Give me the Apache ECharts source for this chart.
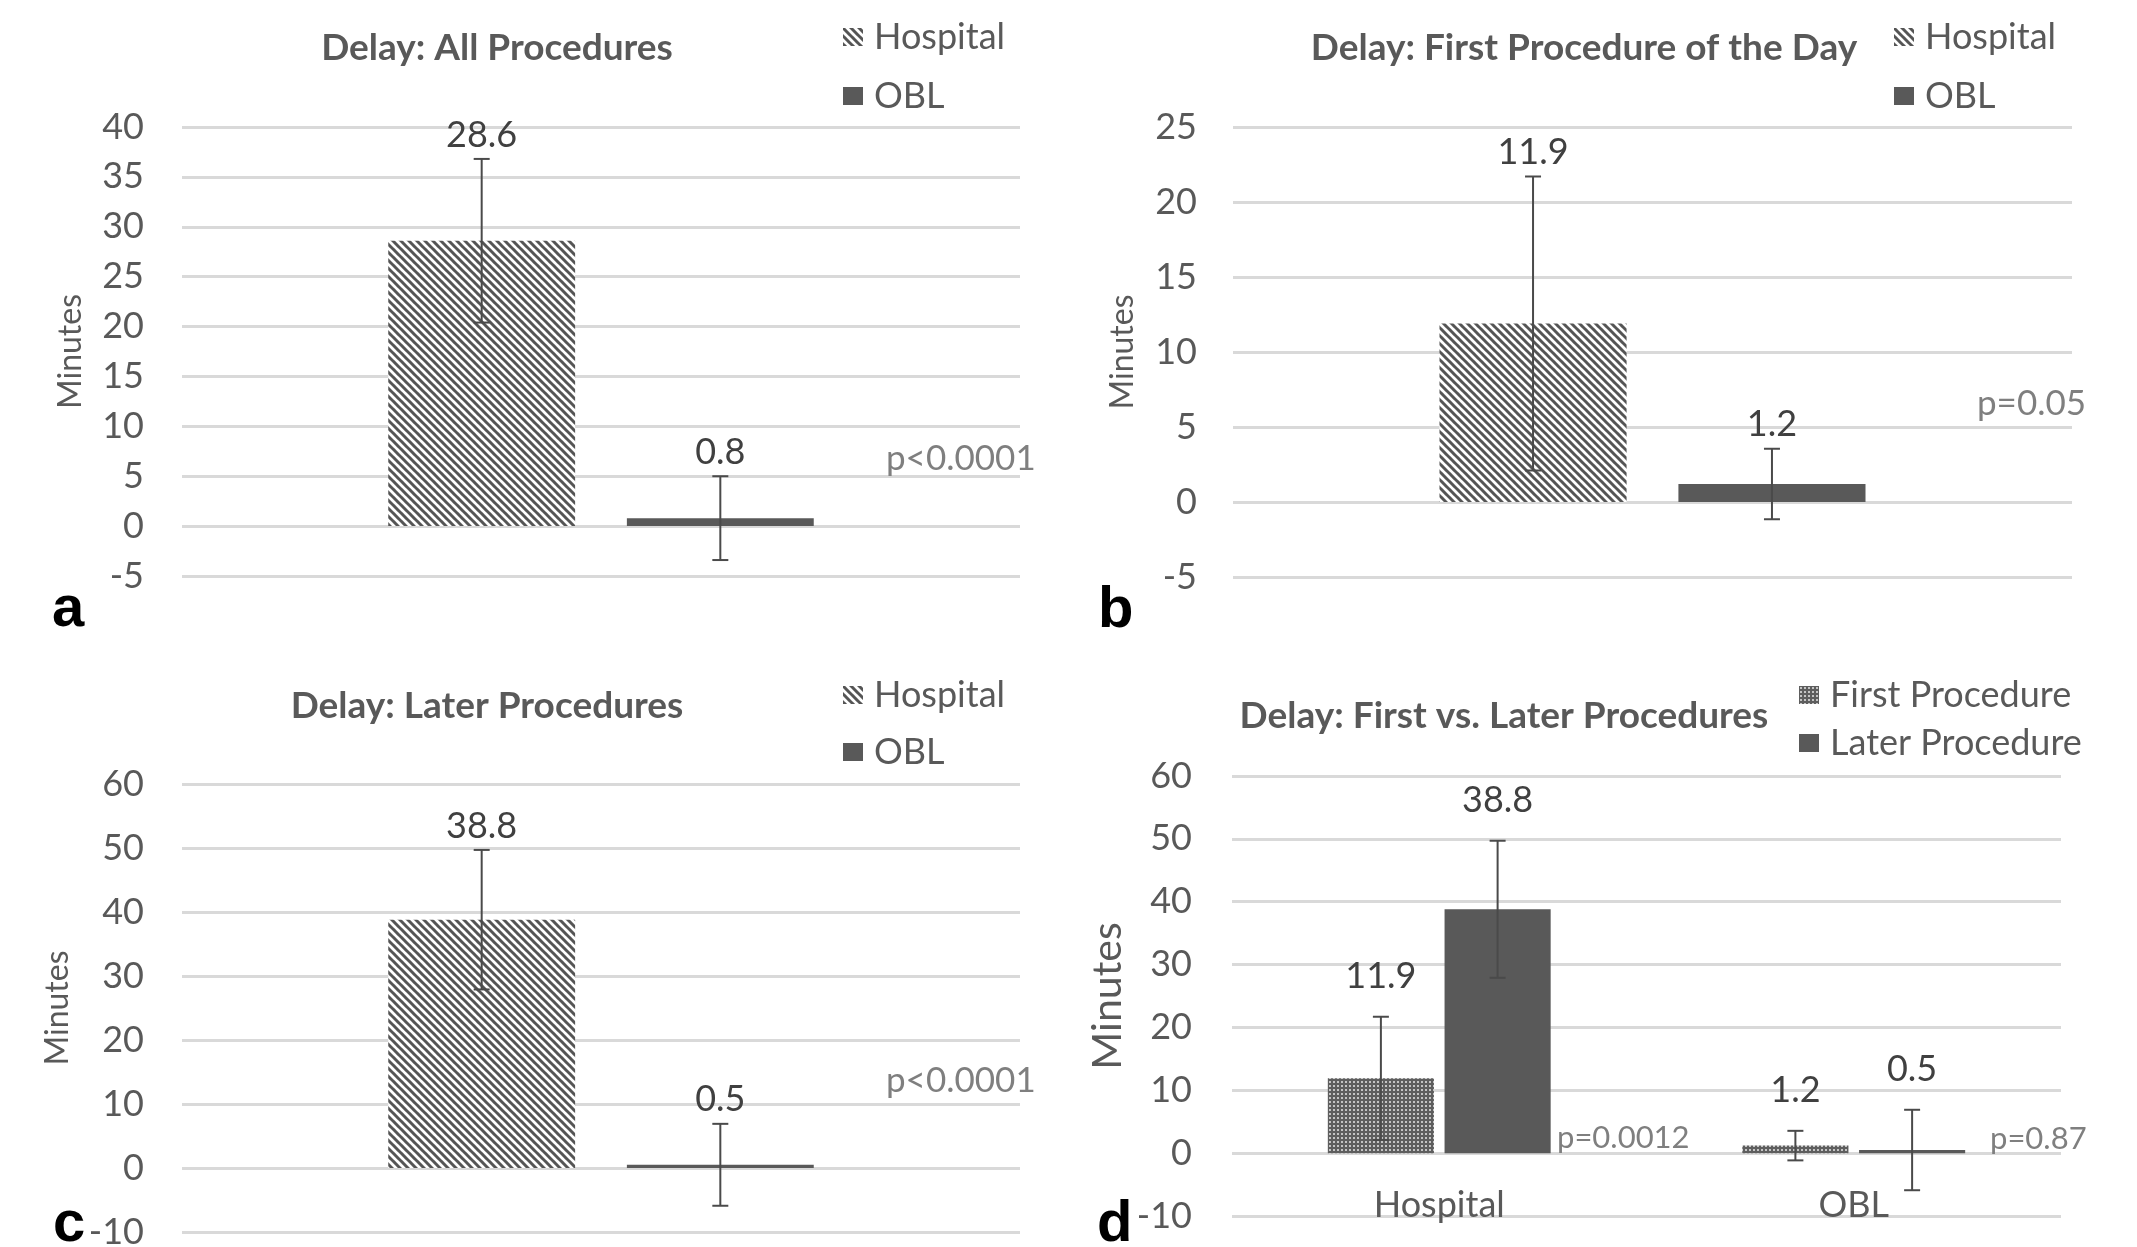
<!DOCTYPE html>
<html>
<head>
<meta charset="utf-8">
<script src="https://cdn.jsdelivr.net/npm/echarts@6.0.0/dist/echarts.min.js"></script>
<style>
html,body{margin:0;padding:0;background:#fff;}
#c{width:2137px;height:1247px;}
</style>
</head>
<body>
<div id="c"></div>
<script>
// ---------------- data ----------------
const groups = ['Hospital', 'OBL'];
const seriesD = ['First Procedure', 'Later Procedure'];
const allMean = [28.6, 0.8];
const allSD = [8.2, 4.2];
const firstMean = [11.9, 1.2];
const firstSD = [9.8, 2.35];
const laterMean = [38.8, 0.5];
const laterSD = [10.9, 6.4];
const yRangeA = [-5, 40, 5];
const yRangeB = [-5, 25, 5];
const yRangeC = [-10, 60, 10];
const yRangeD = [-10, 60, 10];
const titles = ['Delay: All Procedures', 'Delay: First Procedure of the Day', 'Delay: Later Procedures', 'Delay: First vs. Later Procedures'];
const pLabels = ['p<0.0001', 'p=0.05', 'p<0.0001', 'p=0.0012', 'p=0.87'];
const panelLetters = ['a', 'b', 'c', 'd'];

// ---------------- styles ----------------
const FONT = 'Lato';
const DARK = '#595959';
const GRID = '#d9d9d9';
const ERR = '#4a4a4a';

function hatchPattern() {
  const s = 8;
  const cv = document.createElement('canvas');
  cv.width = s; cv.height = s;
  const g = cv.getContext('2d');
  g.fillStyle = '#ffffff'; g.fillRect(0, 0, s, s);
  g.strokeStyle = '#555555'; g.lineWidth = 3;
  for (const k of [-s, 0, s]) {
    g.beginPath(); g.moveTo(k - 1, -1); g.lineTo(k + s + 1, s + 1); g.stroke();
  }
  return { image: cv, repeat: 'repeat' };
}
function dotPattern() {
  const s = 4;
  const cv = document.createElement('canvas');
  cv.width = s; cv.height = s;
  const g = cv.getContext('2d');
  g.fillStyle = '#5e5e5e'; g.fillRect(0, 0, s, s);
  g.fillStyle = '#c4c4c4'; g.fillRect(1, 1, 2, 2);
  return { image: cv, repeat: 'repeat' };
}
const HATCH = hatchPattern();
const DOTS = dotPattern();

const grids = [
  { left: 182, top: 127, width: 838, height: 449 },
  { left: 1233, top: 127, width: 839, height: 450 },
  { left: 182, top: 784, width: 838, height: 448 },
  { left: 1232, top: 776, width: 829, height: 440 }
];
const BW_ABC = 0.223, GAP_ABC = 0.277;
const BW_D = 0.256, GAP_D = 0.10;

function yAxis(gi, r, nameGap, nameSize, labelMargin) {
  return {
    type: 'value', gridIndex: gi, min: r[0], max: r[1], interval: r[2],
    name: 'Minutes', nameLocation: 'middle', nameGap: nameGap,
    nameTextStyle: { fontFamily: FONT, fontSize: nameSize, color: DARK },
    axisLine: { show: false }, axisTick: { show: false },
    axisLabel: { fontFamily: FONT, fontSize: 36, color: DARK, margin: labelMargin },
    splitLine: { lineStyle: { color: GRID, width: 3 } }
  };
}
function xAxisHidden(gi) {
  return {
    type: 'category', gridIndex: gi, data: ['Delay'],
    axisLine: { show: false }, axisTick: { show: false }, axisLabel: { show: false },
    splitLine: { show: false }
  };
}

function errSeries(gi, items, bw, gap, labelOff) {
  return {
    type: 'custom', name: 'err' + gi, xAxisIndex: gi, yAxisIndex: gi, z: 5,
    encode: { x: 0, y: 1 },
    data: items,
    renderItem: function (params, api) {
      const cat = api.value(0), m = api.value(1), sd = api.value(2), k = api.value(3);
      const band = api.size([1, 0])[0];
      const w = band * bw;
      const total = 2 * w + gap * w;
      const c = api.coord([cat, m]);
      const x = c[0] - total / 2 + w / 2 + k * (w + gap * w);
      const top = api.coord([cat, m + sd])[1];
      const bot = api.coord([cat, m - sd])[1];
      const cap = 8;
      const ls = { stroke: ERR, lineWidth: 2 };
      return {
        type: 'group',
        children: [
          { type: 'line', shape: { x1: x, y1: top, x2: x, y2: bot }, style: ls },
          { type: 'line', shape: { x1: x - cap, y1: top, x2: x + cap, y2: top }, style: ls },
          { type: 'line', shape: { x1: x - cap, y1: bot, x2: x + cap, y2: bot }, style: ls },
          { type: 'text', x: x, y: top - labelOff,
            style: { text: m.toFixed(1), font: '36px ' + FONT, fill: '#404040', align: 'center', verticalAlign: 'middle' } }
        ]
      };
    }
  };
}

function twoBars(gi, means, names, styles, bw, gap) {
  return names.map((n, k) => ({
    type: 'bar', name: n, xAxisIndex: gi, yAxisIndex: gi,
    data: [means[k]], barWidth: (bw * 100) + '%', barGap: (gap * 100) + '%',
    itemStyle: { color: styles[k] }
  }));
}

const legendBase = {
  orient: 'vertical', icon: 'rect', itemWidth: 20, itemHeight: 18, padding: 0,
  textStyle: { fontFamily: FONT, fontSize: 36, color: DARK, lineHeight: 36, padding: [0, 0, 0, 6] },
  selectedMode: false
};

const series = [];
// panel a
series.push(...twoBars(0, allMean, groups, [HATCH, DARK], BW_ABC, GAP_ABC));
series.push(errSeries(0, allMean.map((m, k) => [0, m, allSD[k], k]), BW_ABC, GAP_ABC, 24));
// panel b
series.push(...twoBars(1, firstMean, groups, [HATCH, DARK], BW_ABC, GAP_ABC));
series.push(errSeries(1, firstMean.map((m, k) => [0, m, firstSD[k], k]), BW_ABC, GAP_ABC, 24));
// panel c
series.push(...twoBars(2, laterMean, groups, [HATCH, DARK], BW_ABC, GAP_ABC));
series.push(errSeries(2, laterMean.map((m, k) => [0, m, laterSD[k], k]), BW_ABC, GAP_ABC, 24));
// panel d
series.push({
  type: 'bar', name: seriesD[0], xAxisIndex: 3, yAxisIndex: 3, data: firstMean,
  barWidth: (BW_D * 100) + '%', barGap: (GAP_D * 100) + '%', itemStyle: { color: DOTS }
});
series.push({
  type: 'bar', name: seriesD[1], xAxisIndex: 3, yAxisIndex: 3, data: laterMean,
  barWidth: (BW_D * 100) + '%', barGap: (GAP_D * 100) + '%', itemStyle: { color: DARK }
});
const dItems = [];
groups.forEach((g, i) => {
  dItems.push([i, firstMean[i], firstSD[i], 0]);
  dItems.push([i, laterMean[i], laterSD[i], 1]);
});
series.push(errSeries(3, dItems, BW_D, GAP_D, 40));

function txt(text, x, y, font, fill, align) {
  return { type: 'text', x: x, y: y, z: 10,
    style: { text: text, font: font, fill: fill, align: align || 'center', verticalAlign: 'middle' } };
}

const TITLE_FONT = 'bold 37px ' + FONT;
const P_FONT = '35px ' + FONT;
const P_FONT_D = '31px ' + FONT;
const LETTER_FONT = 'bold 58px "Liberation Sans"';

const option = {
  animation: false,
  backgroundColor: '#ffffff',
  grid: grids.map(g => Object.assign({ outerBoundsMode: 'none', containLabel: false }, g)),
  xAxis: [
    xAxisHidden(0), xAxisHidden(1), xAxisHidden(2),
    {
      type: 'category', gridIndex: 3, data: groups,
      axisLine: { show: false }, axisTick: { show: false },
      axisLabel: { fontFamily: FONT, fontSize: 36, color: DARK, margin: -11, verticalAlign: 'middle' },
      splitLine: { show: false }
    }
  ],
  yAxis: [
    yAxis(0, yRangeA, 95, 32, 38),
    yAxis(1, yRangeB, 94, 32, 36),
    yAxis(2, yRangeC, 108, 32, 38),
    yAxis(3, yRangeD, 104, 41, 40)
  ],
  legend: [
    Object.assign({}, legendBase, { data: groups, left: 843, top: 19, itemGap: 23 }),
    Object.assign({}, legendBase, { data: groups, left: 1894, top: 19, itemGap: 23 }),
    Object.assign({}, legendBase, { data: groups, left: 843, top: 677, itemGap: 21 }),
    Object.assign({}, legendBase, { data: seriesD, left: 1799, top: 677, itemGap: 12 })
  ],
  graphic: [
    txt(titles[0], 497, 48, TITLE_FONT, DARK),
    txt(titles[1], 1584, 48, TITLE_FONT, DARK),
    txt(titles[2], 487, 706, TITLE_FONT, DARK),
    txt(titles[3], 1504, 716, TITLE_FONT, DARK),
    txt(pLabels[0], 886, 459, P_FONT, '#7f7f7f', 'left'),
    txt(pLabels[1], 1977, 404, P_FONT, '#7f7f7f', 'left'),
    txt(pLabels[2], 886, 1081, P_FONT, '#7f7f7f', 'left'),
    txt(pLabels[3], 1557, 1138, P_FONT_D, '#7f7f7f', 'left'),
    txt(pLabels[4], 1990, 1139, P_FONT_D, '#7f7f7f', 'left'),
    txt(panelLetters[0], 52, 610, LETTER_FONT, '#000', 'left'),
    txt(panelLetters[1], 1098, 611, LETTER_FONT, '#000', 'left'),
    txt(panelLetters[2], 53, 1225, LETTER_FONT, '#000', 'left'),
    txt(panelLetters[3], 1097, 1225, LETTER_FONT, '#000', 'left')
  ],
  series: series
};

const chart = echarts.init(document.getElementById('c'), null, { renderer: 'canvas', width: 2137, height: 1247 });
chart.setOption(option);
</script>
</body>
</html>
